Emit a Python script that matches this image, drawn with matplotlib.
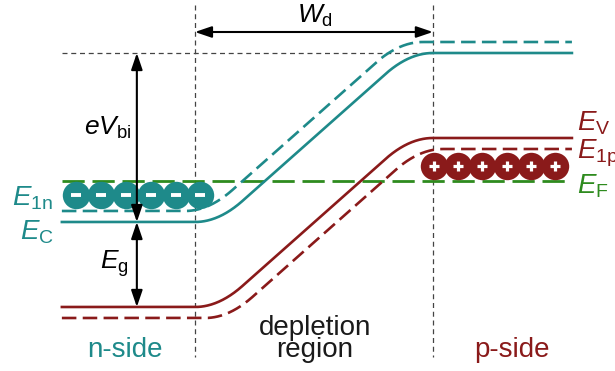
import numpy as np
import matplotlib
matplotlib.use("Agg")
import matplotlib.pyplot as plt
from matplotlib.patches import FancyArrowPatch

plt.rcParams["font.family"] = ["Liberation Sans", "DejaVu Sans"]
plt.rcParams["mathtext.fontset"] = "custom"
plt.rcParams["mathtext.rm"] = "Liberation Sans"
plt.rcParams["mathtext.it"] = "Liberation Sans:italic"

# Positions (depletion region spans 0..1), energies relative to E_F
x_n_start, x_dep_start, x_dep_end, x_p_end = -0.559, 0.0, 1.0, 1.584
E_F = 0.0
E_C = [-0.41, 1.28]        # n-side, p-side
E_V = [-1.26, 0.43]
E_1n_offset = 0.11
E_1p_offset = -0.11
dashed_shift = 0.042

electron_x = [-0.50, -0.395, -0.29, -0.185, -0.08, 0.021]
electron_E = -0.14
hole_x = [1.004, 1.106, 1.208, 1.31, 1.41, 1.513]
hole_E = 0.15

TEAL = "#1e8a8a"
RED = "#8a1a1a"
GREEN = "#2e8b1e"
GREY = "#444444"


def band(x, lo, hi, shift=0.0, a=0.2):
    t = np.clip(x - shift, 0, 1)
    s = 1 / (1 - a)
    f = np.where(t < a, s * t**2 / (2 * a),
                 np.where(t > 1 - a, 1 - s * (1 - t)**2 / (2 * a), s * (t - a / 2)))
    return lo + (hi - lo) * f


fig = plt.figure(figsize=(6.15, 3.71), dpi=100)
ax = fig.add_axes([0, 0, 1, 1])
ax.set_xlim(-0.819, 1.765)
ax.set_ylim(-1.90, 1.81)
ax.axis("off")

x = np.linspace(x_n_start, x_p_end, 800)

# reference dotted lines
dot = dict(color=GREY, lw=0.9, linestyle=(0, (4, 3)))
ax.plot([x_dep_start, x_dep_start], [1.76, -1.76], **dot)
ax.plot([x_dep_end, x_dep_end], [1.76, -1.76], **dot)
ax.plot([x_n_start, x_dep_end], [E_C[1], E_C[1]], **dot)

# Fermi level
ax.plot([x_n_start, x_p_end], [E_F, E_F], color=GREEN, lw=2.0, linestyle=(0, (8, 2.8)))

# bands
ax.plot(x, band(x, E_C[0], E_C[1]), color=TEAL, lw=1.9)
ax.plot(x, band(x, E_C[0] + E_1n_offset, E_C[1] + E_1n_offset, -dashed_shift),
        color=TEAL, lw=1.9, linestyle=(0, (5.5, 2.4)))
ax.plot(x, band(x, E_V[0], E_V[1]), color=RED, lw=1.9)
ax.plot(x, band(x, E_V[0] + E_1p_offset, E_V[1] + E_1p_offset, dashed_shift),
        color=RED, lw=1.9, linestyle=(0, (5.5, 2.4)))

# carriers
ax.scatter(electron_x, [electron_E] * len(electron_x), s=390, color=TEAL, zorder=4, lw=0)
ax.scatter(electron_x, [electron_E] * len(electron_x), s=60, marker="_", color="white",
           lw=2.8, zorder=5)
ax.scatter(hole_x, [hole_E] * len(hole_x), s=390, color=RED, zorder=4, lw=0)
ax.scatter(hole_x, [hole_E] * len(hole_x), s=60, marker="+", color="white",
           lw=2.3, zorder=5)

# arrows
arr = dict(arrowstyle="<|-|>,head_length=0.5,head_width=0.17", mutation_scale=20,
           color="black", lw=1.5, shrinkA=0, shrinkB=0, zorder=6)
x_arrow = -0.244
ax.add_patch(FancyArrowPatch((x_arrow, E_C[1]), (x_arrow, E_C[0]), **arr))
ax.add_patch(FancyArrowPatch((x_arrow, E_C[0]), (x_arrow, E_V[0]), **arr))
ax.add_patch(FancyArrowPatch((x_dep_start, 1.49), (x_dep_end, 1.49), **arr))

# labels
ax.text(0.504, 1.58, r"$W_{\mathrm{d}}$", fontsize=19, ha="center", va="baseline")
ax.text(-0.265, 0.46, r"$eV_{\mathrm{bi}}$", fontsize=19, ha="right", va="baseline")
ax.text(-0.28, -0.88, r"$E_{\mathrm{g}}$", fontsize=19, ha="right", va="baseline")
ax.text(-0.77, -0.24, r"$E_{\mathrm{1n}}$", fontsize=20, ha="left", va="baseline", color=TEAL)
ax.text(-0.735, -0.59, r"$E_{\mathrm{C}}$", fontsize=20, ha="left", va="baseline", color=TEAL)
ax.text(1.605, 0.51, r"$E_{\mathrm{V}}$", fontsize=20, ha="left", va="baseline", color=RED)
ax.text(1.605, 0.23, r"$E_{\mathrm{1p}}$", fontsize=20, ha="left", va="baseline", color=RED)
ax.text(1.605, -0.12, r"$E_{\mathrm{F}}$", fontsize=20, ha="left", va="baseline", color=GREEN)

ax.text(-0.294, -1.76, "n-side", fontsize=20, ha="center", va="baseline", color=TEAL)
ax.text(0.504, -1.54, "depletion", fontsize=20, ha="center", va="baseline", color="#1a1a1a")
ax.text(0.504, -1.76, "region", fontsize=20, ha="center", va="baseline", color="#1a1a1a")
ax.text(1.332, -1.76, "p-side", fontsize=20, ha="center", va="baseline", color=RED)

fig.savefig("out.png", dpi=100)
